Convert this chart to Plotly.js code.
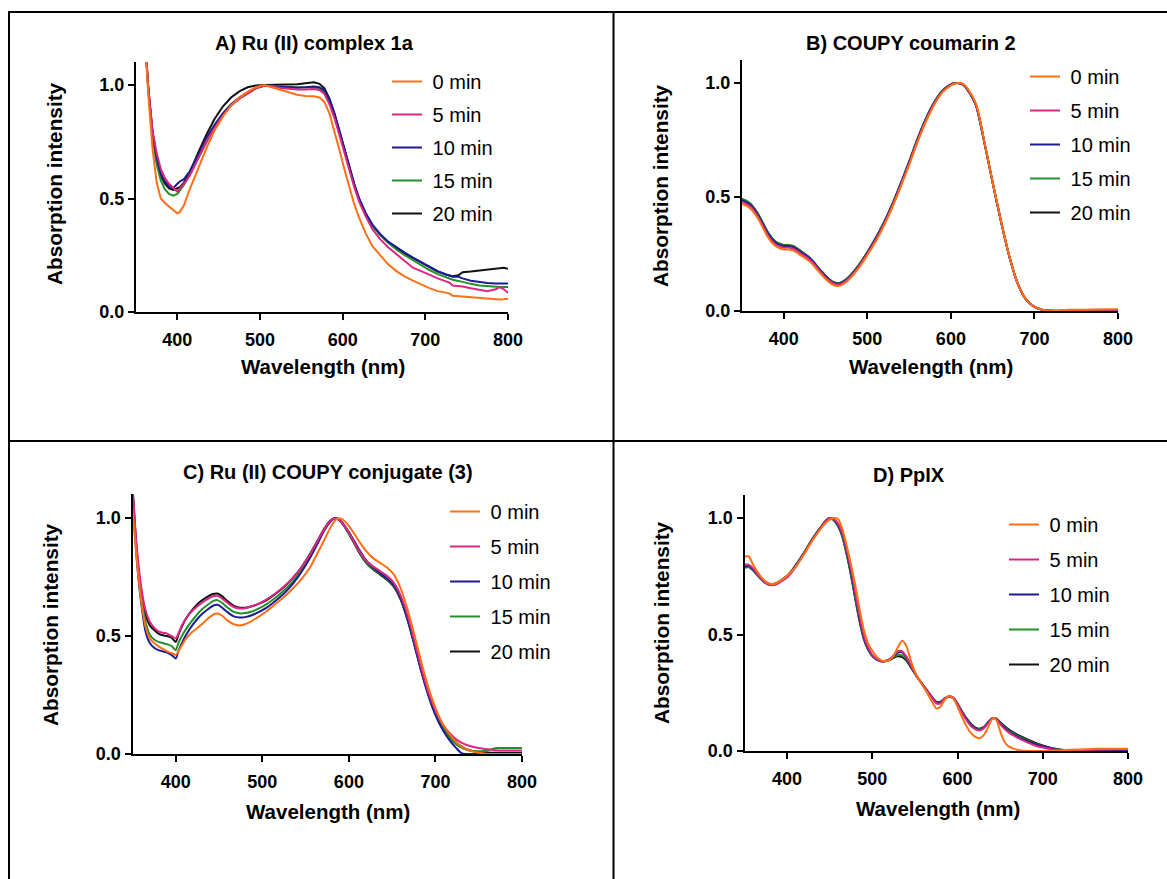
<!DOCTYPE html>
<html>
<head>
<meta charset="utf-8">
<script src="https://cdn.plot.ly/plotly-3.0.1.min.js"></script>
<style>
html,body{margin:0;padding:0;background:#fff;}
#chart{width:1167px;height:879px;}
</style>
</head>
<body>
<div id="chart"></div>
<script>
// ---------- data ----------
const seriesNames = ["0 min", "5 min", "10 min", "15 min", "20 min"];
const seriesColors = ["#FF6F15", "#DB2781", "#1B1B96", "#22912A", "#111111"];
const panelTitles = ["A) Ru (II) complex 1a", "B) COUPY coumarin 2", "C) Ru (II) COUPY conjugate (3)", "D) PpIX"];
const xTitle = "Wavelength (nm)";
const yTitle = "Absorption intensity";

// Panel A
const wlA = [360,365,370,375,380,385,390,395,400,403,408,415,425,435,445,455,465,475,485,495,505,515,525,535,545,555,565,572,578,584,590,596,602,608,614,620,628,636,645,655,665,675,685,695,705,715,725,729,733,740,745,755,765,775,785,790,795,800];
const a0  = [1.25,0.95,0.72,0.57,0.50,0.48,0.465,0.45,0.435, 0.44,0.47,0.54, 0.63,0.72,0.80,0.86,0.91,0.945,0.97,0.99,1.0,0.99,0.98,0.967,0.957,0.952,0.95, 0.945,0.925,0.875,0.80,0.715,0.63,0.55,0.475,0.415, 0.345,0.29, 0.25,0.21,0.18,0.157,0.138,0.12,0.105,0.092,0.085, 0.082,0.072, 0.07,0.068, 0.065,0.061,0.057,0.055, 0.055,0.056,0.058];
const a5  = [1.25,0.98,0.80,0.70,0.63,0.59,0.565,0.548,0.53, 0.545,0.565,0.60, 0.675,0.75,0.81,0.865,0.91,0.94,0.962,0.985,0.997,0.995,0.987,0.982,0.98,0.98,0.982, 0.978,0.96,0.915,0.855,0.78,0.70,0.625,0.55,0.485, 0.42,0.365, 0.322,0.285,0.255,0.225,0.195,0.18,0.163,0.148,0.135, 0.13,0.117, 0.115,0.112, 0.105,0.098,0.092,0.1, 0.11,0.1,0.085];
const a10 = [1.25,0.98,0.79,0.68,0.61,0.575,0.555,0.545,0.565, 0.575,0.585,0.62, 0.69,0.765,0.825,0.875,0.915,0.945,0.967,0.988,0.997,0.995,0.99,0.988,0.988,0.99,0.993, 0.99,0.975,0.935,0.875,0.80,0.72,0.64,0.565,0.50, 0.435,0.385, 0.345,0.31,0.285,0.262,0.24,0.22,0.20,0.18,0.165, 0.16,0.155, 0.155,0.148, 0.138,0.132,0.128,0.126, 0.126,0.125,0.125];
const a15 = [1.25,0.97,0.77,0.65,0.58,0.54,0.52,0.512,0.52, 0.535,0.56,0.605, 0.675,0.75,0.815,0.868,0.91,0.94,0.963,0.985,0.997,0.997,0.993,0.99,0.99,0.99,0.99, 0.985,0.968,0.93,0.87,0.795,0.715,0.635,0.56,0.495, 0.43,0.38, 0.34,0.305,0.275,0.25,0.228,0.205,0.185,0.167,0.152, 0.147,0.142, 0.137,0.132, 0.124,0.117,0.113,0.11, 0.11,0.11,0.11];
const a20 = [1.25,0.98,0.79,0.67,0.60,0.565,0.545,0.538,0.545, 0.55,0.57,0.615, 0.70,0.78,0.85,0.905,0.945,0.972,0.99,0.998,1.0,1.0,1.0,1.0,1.003,1.008,1.012, 1.005,0.985,0.94,0.875,0.795,0.715,0.635,0.56,0.495, 0.43,0.38, 0.342,0.308,0.28,0.258,0.238,0.215,0.195,0.178,0.165, 0.16,0.158, 0.162,0.175, 0.178,0.183,0.188,0.193, 0.195,0.195,0.19];

// Panel B
const wlB = [350,355,360,365,370,375,380,385,390,395,400,405,410,415,420,425,430,435,440,445,450,455,460,465,470,475,480,490,500,510,520,530,540,550,560,570,580,590,600,605,610,615,620,630,640,650,660,670,680,690,700,710,720,730,740,760,780,800];
const b0  = [0.47,0.462,0.45,0.428,0.40,0.365,0.33,0.303,0.285,0.275,0.27,0.27,0.266,0.258,0.245,0.233,0.22,0.203,0.18,0.16,0.14,0.124,0.113,0.11,0.116,0.128,0.145, 0.19,0.245,0.305,0.375,0.455,0.545,0.64,0.74,0.83,0.905,0.96,0.99, 0.998,1.0,0.995,0.975, 0.91,0.745,0.565,0.395,0.24,0.12,0.05,0.018,0.005,0.0,0.002,0.005, 0.006,0.007,0.008];
const b5  = [0.478,0.47,0.458,0.436,0.408,0.373,0.338,0.311,0.293,0.283,0.278,0.278,0.274,0.266,0.253,0.241,0.228,0.211,0.188,0.167,0.147,0.131,0.119,0.116,0.121,0.133,0.15, 0.196,0.25,0.311,0.381,0.461,0.551,0.646,0.746,0.835,0.909,0.962,0.991, 0.999,1.0,0.994,0.973, 0.905,0.743,0.564,0.394,0.239,0.12,0.05,0.018,0.005,0.001,0.002,0.003, 0.004,0.005,0.005];
const b10 = [0.486,0.478,0.466,0.444,0.416,0.381,0.346,0.319,0.30,0.29,0.285,0.285,0.281,0.272,0.259,0.247,0.233,0.215,0.192,0.171,0.151,0.134,0.122,0.119,0.124,0.136,0.153, 0.199,0.254,0.316,0.386,0.466,0.556,0.651,0.751,0.84,0.912,0.965,0.993, 1.0,0.999,0.993,0.971, 0.903,0.741,0.563,0.393,0.239,0.12,0.05,0.018,0.005,0.001,0.0,0.0, 0.0,0.0,0.0];
const b15 = [0.492,0.484,0.471,0.449,0.421,0.386,0.351,0.324,0.305,0.295,0.289,0.289,0.285,0.276,0.263,0.25,0.236,0.218,0.195,0.174,0.154,0.137,0.125,0.121,0.127,0.139,0.157, 0.202,0.257,0.319,0.389,0.469,0.559,0.654,0.754,0.842,0.914,0.966,0.994, 1.0,0.999,0.992,0.97, 0.902,0.74,0.562,0.392,0.238,0.12,0.05,0.018,0.005,0.001,0.001,0.002, 0.003,0.003,0.004];
const b20 = [0.49,0.483,0.47,0.448,0.42,0.386,0.351,0.324,0.305,0.295,0.29,0.29,0.286,0.277,0.264,0.251,0.237,0.219,0.196,0.175,0.155,0.138,0.126,0.122,0.128,0.14,0.158, 0.203,0.258,0.32,0.39,0.47,0.56,0.655,0.755,0.843,0.915,0.967,0.994, 1.0,0.999,0.992,0.97, 0.902,0.74,0.562,0.392,0.238,0.12,0.05,0.018,0.005,0.001,0.0,0.0, 0.0,0.0,0.0];

// Panel C
const wlC = [350,355,360,365,370,375,380,385,390,395,400,403,407,412,420,428,436,443,448,453,460,467,474,480,487,495,505,515,525,535,545,555,565,572,578,583,587,592,598,605,612,620,628,636,644,652,660,668,676,684,692,700,708,716,724,730,736,744,752,760,770,780,790,800];
const c0  = [1.04,0.82,0.65,0.54,0.49,0.47,0.456,0.445,0.435,0.428,0.42, 0.435,0.46,0.49, 0.52,0.543,0.57,0.59,0.595,0.588, 0.565,0.55,0.545,0.55,0.562,0.58, 0.605,0.635,0.665,0.70,0.74,0.79,0.86, 0.91,0.955,0.985,0.998,0.995,0.975, 0.94,0.90, 0.86,0.83,0.81,0.79,0.76,0.70,0.61,0.50,0.385,0.28,0.195,0.13,0.085,0.05, 0.032,0.02,0.01,0.004,0.0, 0.0,0.0,0.0,0.0];
const c5  = [1.14,0.87,0.71,0.61,0.56,0.535,0.52,0.514,0.51,0.50,0.49, 0.51,0.545,0.575, 0.61,0.635,0.655,0.668,0.67,0.66, 0.64,0.623,0.617,0.618,0.625,0.635, 0.655,0.68,0.71,0.745,0.79,0.845,0.91, 0.955,0.985,0.998,0.995,0.98,0.95, 0.905,0.86, 0.82,0.795,0.775,0.755,0.725,0.67,0.585,0.475,0.36,0.26,0.185,0.128,0.09,0.062, 0.048,0.038,0.03,0.024,0.02, 0.016,0.015,0.015,0.015];
const c10 = [1.13,0.82,0.64,0.52,0.47,0.45,0.44,0.435,0.43,0.42,0.405, 0.435,0.47,0.505, 0.55,0.585,0.61,0.628,0.632,0.622, 0.60,0.583,0.578,0.58,0.587,0.60, 0.62,0.648,0.68,0.72,0.77,0.83,0.90, 0.95,0.982,0.998,0.997,0.982,0.952, 0.91,0.865, 0.82,0.79,0.767,0.745,0.715,0.66,0.57,0.46,0.345,0.245,0.165,0.105,0.06,0.025, 0.004,0.0,0.0,0.0,0.0, 0.0,0.0,0.0,0.0];
const c15 = [1.13,0.84,0.67,0.56,0.505,0.485,0.475,0.47,0.465,0.458,0.44, 0.47,0.50,0.53, 0.57,0.605,0.63,0.648,0.652,0.642, 0.62,0.602,0.596,0.597,0.603,0.615, 0.635,0.662,0.693,0.73,0.778,0.836,0.905, 0.952,0.983,0.998,0.997,0.98,0.948, 0.903,0.857, 0.813,0.785,0.763,0.742,0.712,0.657,0.57,0.46,0.348,0.25,0.172,0.113,0.07,0.04, 0.027,0.018,0.012,0.012,0.015, 0.025,0.025,0.025,0.025];
const c20 = [1.13,0.86,0.69,0.59,0.545,0.525,0.51,0.503,0.50,0.493,0.475, 0.505,0.54,0.575, 0.615,0.645,0.665,0.678,0.68,0.67, 0.647,0.628,0.62,0.62,0.625,0.635, 0.652,0.678,0.708,0.745,0.79,0.847,0.912, 0.957,0.987,0.999,0.996,0.978,0.945, 0.90,0.853, 0.81,0.782,0.76,0.738,0.708,0.652,0.565,0.458,0.35,0.255,0.178,0.12,0.078,0.048, 0.032,0.02,0.012,0.008,0.006, 0.005,0.005,0.005,0.005];

// Panel D
const wlD = [350,355,360,365,370,375,380,385,390,395,400,405,410,420,430,440,446,450,455,460,465,470,475,480,485,490,495,500,505,510,515,520,525,530,535,540,545,550,555,560,565,570,575,580,585,590,595,600,605,610,615,620,625,630,635,640,643,646,650,655,660,665,670,680,690,700,710,720,730,750,775,800];
const d0  = [0.835,0.835,0.80,0.77,0.745,0.727,0.718,0.718,0.725,0.737,0.752,0.77,0.79, 0.845,0.905,0.957, 0.982,0.993, 1.0,0.995,0.95,0.88,0.80,0.71,0.61,0.52,0.462,0.43, 0.405,0.39,0.385,0.39,0.41,0.445,0.473,0.45,0.39,0.34, 0.305,0.275,0.245,0.212,0.183,0.19,0.22,0.236,0.225,0.19, 0.148,0.11,0.08,0.063,0.055,0.065,0.095,0.135, 0.143,0.13, 0.085,0.04,0.02,0.011,0.005, 0.0,0.0,0.0,0.0,0.002,0.005, 0.008,0.01,0.01];
const d5  = [0.80,0.80,0.785,0.76,0.738,0.72,0.712,0.713,0.72,0.732,0.745,0.765,0.79, 0.848,0.908,0.96, 0.988,1.0, 0.995,0.975,0.935,0.865,0.78,0.68,0.58,0.495,0.445,0.412, 0.395,0.386,0.385,0.393,0.41,0.428,0.428,0.405,0.37,0.335, 0.305,0.28,0.255,0.23,0.205,0.205,0.225,0.235,0.228,0.20, 0.165,0.135,0.11,0.095,0.088,0.095,0.115,0.138, 0.142,0.135, 0.115,0.095,0.08,0.068,0.057, 0.04,0.025,0.015,0.008,0.003,0.002, 0.004,0.006,0.008];
const d10 = [0.79,0.795,0.78,0.757,0.737,0.72,0.713,0.715,0.722,0.735,0.748,0.77,0.795, 0.85,0.91,0.962, 0.99,1.0, 0.993,0.97,0.928,0.855,0.768,0.668,0.57,0.488,0.44,0.41, 0.394,0.386,0.386,0.393,0.408,0.423,0.423,0.402,0.368,0.335, 0.305,0.28,0.255,0.23,0.207,0.207,0.225,0.235,0.228,0.20, 0.168,0.138,0.113,0.098,0.09,0.097,0.117,0.138, 0.142,0.136, 0.118,0.10,0.085,0.072,0.062, 0.045,0.03,0.018,0.01,0.004,0.001, 0.0,0.0,0.0];
const d15 = [0.785,0.79,0.775,0.755,0.735,0.72,0.714,0.716,0.724,0.737,0.75,0.772,0.797, 0.852,0.912,0.963, 0.99,1.0, 0.99,0.965,0.92,0.845,0.757,0.657,0.562,0.483,0.437,0.408, 0.393,0.386,0.386,0.392,0.403,0.412,0.41,0.394,0.364,0.333, 0.305,0.28,0.256,0.231,0.21,0.21,0.226,0.234,0.228,0.202, 0.17,0.14,0.116,0.10,0.093,0.099,0.118,0.138, 0.142,0.137, 0.12,0.103,0.089,0.077,0.066, 0.049,0.033,0.021,0.011,0.005,0.001, 0.0,0.0,0.0];
const d20 = [0.79,0.79,0.777,0.757,0.737,0.722,0.716,0.718,0.726,0.738,0.752,0.772,0.797, 0.852,0.912,0.963, 0.99,1.0, 0.99,0.963,0.918,0.842,0.753,0.652,0.557,0.48,0.435,0.407, 0.392,0.385,0.385,0.39,0.40,0.407,0.403,0.388,0.36,0.332, 0.305,0.28,0.256,0.232,0.212,0.212,0.226,0.233,0.227,0.203, 0.172,0.143,0.119,0.103,0.096,0.101,0.12,0.139, 0.142,0.138, 0.123,0.107,0.093,0.081,0.07, 0.053,0.037,0.024,0.013,0.006,0.002, 0.0,0.0,0.0];

// ---------- build ----------
const W = 1167, H = 879;
const px = v => v / W;
const py = v => 1 - v / H;

const panels = [
  {wl: wlA, ys: [a0, a5, a10, a15, a20], xa: "x",  ya: "y",  leg: "legend",  shape: "linear"},
  {wl: wlB, ys: [b0, b5, b10, b15, b20], xa: "x2", ya: "y2", leg: "legend2", shape: "spline"},
  {wl: wlC, ys: [c0, c5, c10, c15, c20], xa: "x3", ya: "y3", leg: "legend3", shape: "spline"},
  {wl: wlD, ys: [d0, d5, d10, d15, d20], xa: "x4", ya: "y4", leg: "legend4", shape: "spline"}
];

const traces = [];
panels.forEach((p, pi) => {
  for (let k = seriesNames.length - 1; k >= 0; k--) {
    traces.push({
      type: "scatter", mode: "lines",
      x: p.wl, y: p.ys[k],
      name: "\u00a0" + seriesNames[k],
      line: {color: seriesColors[k], width: 2, shape: p.shape, smoothing: 0.7},
      xaxis: p.xa, yaxis: p.ya,
      legend: p.leg,
      legendgroup: "p" + pi + "s" + k,
      legendrank: k + 1,
      hoverinfo: "skip"
    });
  }
});

const FONT = "Liberation Sans, Arial, Helvetica, sans-serif";
function xaxisDef(dom, anchor) {
  return {
    domain: dom, anchor: anchor, range: [350, 800], tick0: 400, dtick: 100,
    ticks: "outside", ticklen: 6, tickwidth: 2, tickcolor: "#000",
    ticklabelstandoff: 4,
    showline: true, linewidth: 2, linecolor: "#000",
    showgrid: false, zeroline: false, fixedrange: true,
    tickfont: {family: FONT, size: 18, weight: "bold", color: "#000"}
  };
}
function yaxisDef(dom, anchor) {
  return {
    domain: dom, anchor: anchor, range: [0, 1.1], tick0: 0, dtick: 0.5, tickformat: ".1f",
    ticks: "outside", ticklen: 6, tickwidth: 2, tickcolor: "#000",
    showline: true, linewidth: 2, linecolor: "#000",
    showgrid: false, zeroline: false, fixedrange: true,
    tickfont: {family: FONT, size: 18, weight: "bold", color: "#000"}
  };
}
function legendDef(x, y, gap) {
  return {
    x: px(x), y: py(y), xanchor: "left", yanchor: "top",
    bgcolor: "rgba(0,0,0,0)", borderwidth: 0,
    traceorder: "grouped", tracegroupgap: gap, itemwidth: 30,
    font: {family: FONT, size: 20, color: "#000"}
  };
}

const annotations = [];
function ann(text, x, y, size, angle) {
  annotations.push({
    text: text, xref: "paper", yref: "paper", x: px(x), y: py(y),
    xanchor: "center", yanchor: "middle", showarrow: false,
    textangle: angle || 0,
    font: {family: FONT, size: size, weight: "bold", color: "#000"}
  });
}
// panel titles
ann(panelTitles[0], 314, 43, 20);
ann(panelTitles[1], 911, 43, 20);
ann(panelTitles[2], 328, 472, 20);
ann(panelTitles[3], 909, 475, 20);
// axis titles
ann(xTitle, 323, 367, 20.5); ann(xTitle, 931, 367, 20.5);
ann(xTitle, 328, 811, 20.5); ann(xTitle, 938, 808, 20.5);
ann(yTitle, 55, 184, 20.8, -90); ann(yTitle, 660, 186, 20.8, -90);
ann(yTitle, 50, 625, 20.8, -90); ann(yTitle, 661, 623, 20.8, -90);

const lineStyle = {color: "#000", width: 2};
const shapes = [
  {type: "line", xref: "paper", yref: "paper", x0: px(8), x1: 1, y0: py(12), y1: py(12), line: lineStyle},
  {type: "line", xref: "paper", yref: "paper", x0: px(9), x1: px(9), y0: py(12), y1: 0, line: lineStyle},
  {type: "line", xref: "paper", yref: "paper", x0: px(613.5), x1: px(613.5), y0: py(12), y1: 0, line: lineStyle},
  {type: "line", xref: "paper", yref: "paper", x0: px(8), x1: 1, y0: py(441), y1: py(441), line: lineStyle}
];

const layout = {
  width: W, height: H,
  margin: {l: 0, r: 0, t: 0, b: 0},
  paper_bgcolor: "#fff", plot_bgcolor: "#fff",
  showlegend: true,
  xaxis:  xaxisDef([px(136), px(508)], "y"),
  yaxis:  yaxisDef([py(312), py(62.3)], "x"),
  xaxis2: xaxisDef([px(742), px(1118)], "y2"),
  yaxis2: yaxisDef([py(311), py(60.2)], "x2"),
  xaxis3: xaxisDef([px(132.5), px(522)], "y3"),
  yaxis3: yaxisDef([py(754), py(494.4)], "x3"),
  xaxis4: xaxisDef([px(744.5), px(1128)], "y4"),
  yaxis4: yaxisDef([py(751), py(494.7)], "x4"),
  legend:  legendDef(387, 62, 4),
  legend2: legendDef(1025, 57, 5),
  legend3: legendDef(445, 492, 6),
  legend4: legendDef(1004, 505, 6),
  annotations: annotations,
  shapes: shapes
};

Plotly.newPlot("chart", traces, layout, {staticPlot: true, displayModeBar: false});
</script>
</body>
</html>
